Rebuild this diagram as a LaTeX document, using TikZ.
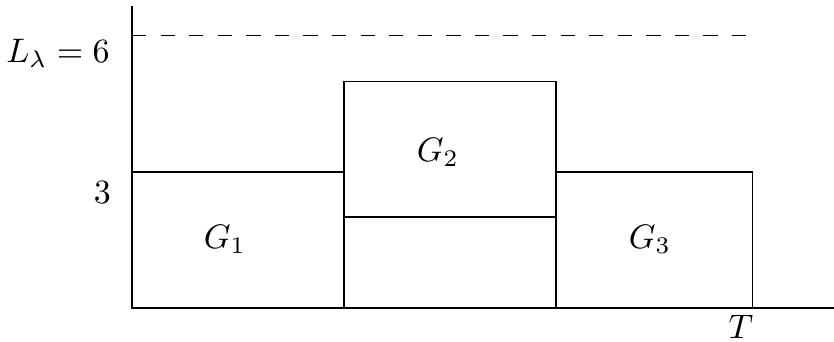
\documentclass[tikz,border=0pt]{standalone}
\begin{document}
\begin{tikzpicture}[x=0.294pt,y=-0.294pt,
  blk/.style={draw,line width=0.5pt},
  axis/.style={line width=0.6pt},
  lbl/.style={inner sep=0pt}]
\useasboundingbox (0,0) rectangle (834,342);
% axes
\coordinate (o) at (132,308);
\coordinate (ytop) at (132,6);
\coordinate (xend) at (834,308);
\draw[axis] (ytop) -- (o) -- (xend);
% dashed level
\coordinate (d0) at (132,35.5);
\coordinate (d1) at (750,35.5);
\draw[line width=0.45pt,dash pattern=on 4.2pt off 4.2pt] (d0) -- (d1);
% blocks
\draw[blk] (132,172.3) rectangle (344.3,308);
\draw[blk] (344.3,217.3) rectangle (556.3,308);
\draw[blk] (344.3,81.5) rectangle (556.3,217.3);
\draw[blk] (556.3,172.3) rectangle (752.5,308);
% labels
\node[lbl] (g1) at (225,239) {$G_1$};
\node[lbl] (g2) at (438,152) {$G_2$};
\node[lbl] (g3) at (650,239) {$G_3$};
\node[lbl] (t) at (741,327) {$T$};
\node[lbl] (three) at (102.5,192.5) {$3$};
\node[lbl] (L) at (58,53) {$L_\lambda = 6$};
\end{tikzpicture}
\end{document}
